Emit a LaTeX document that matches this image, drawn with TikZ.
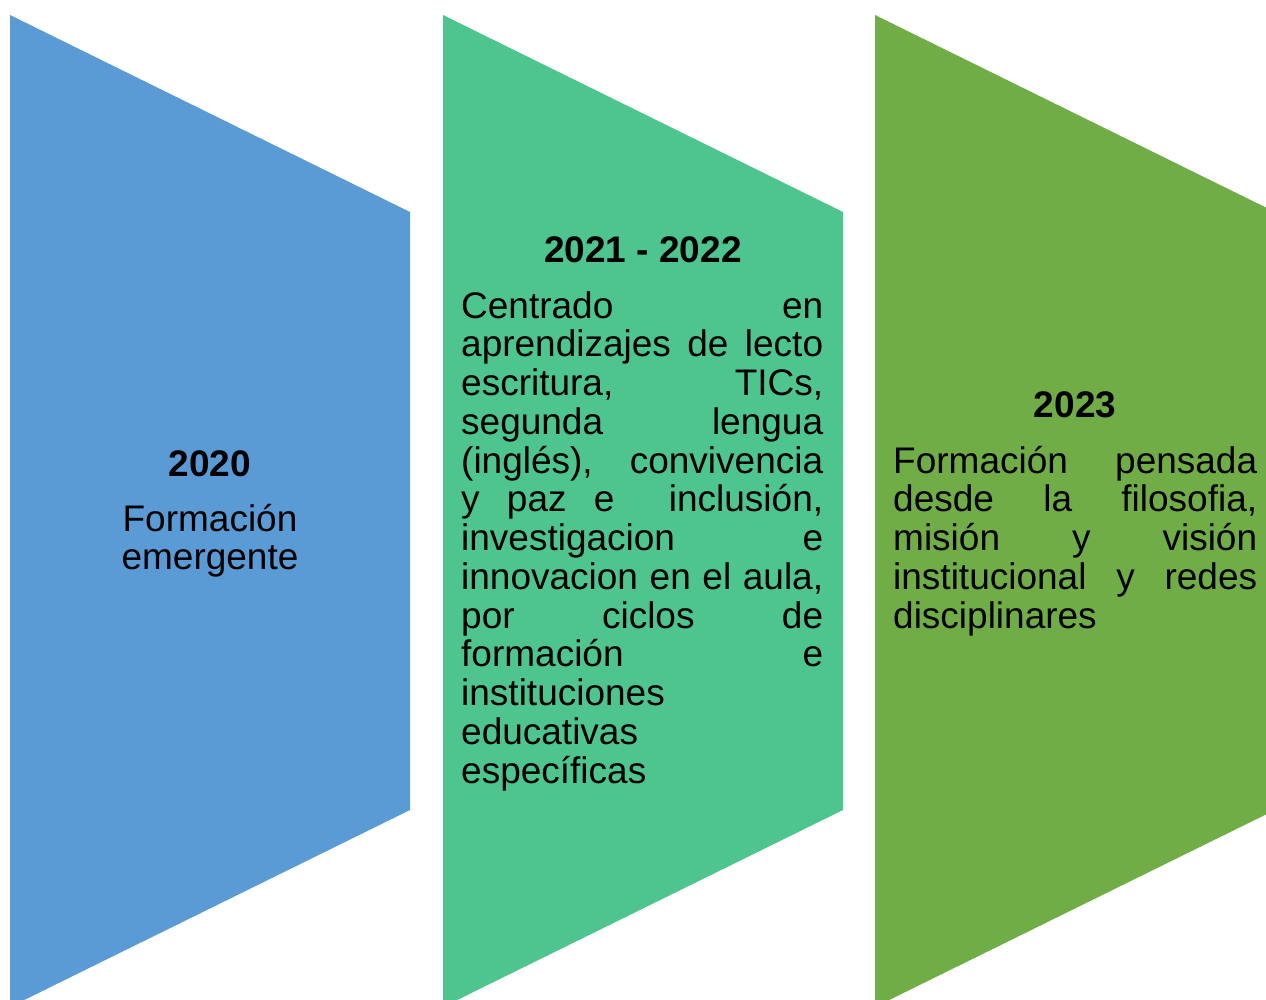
\documentclass[tikz,border=0pt]{standalone}
\usepackage{fontspec}
\setmainfont{Liberation Sans}
\definecolor{cblue}{HTML}{5B9BD5}
\definecolor{cgreen}{HTML}{4EC58E}
\definecolor{colive}{HTML}{70AD47}
\newcommand\myjline[2]{\makebox[#1][s]{#2}}
\newcommand\mylline[2]{\makebox[#1][l]{#2}}
\newcommand\mychev[2]{\fill[#2] (#1,15) -- (#1+400,212) -- (#1+400,810) -- (#1,1007) -- cycle;}
\begin{document}
\begin{tikzpicture}[x=1pt,y=-1pt,
  txt/.style={inner sep=0pt,anchor=base west,font=\fontsize{37}{38.75}\selectfont\frenchspacing},
  head/.style={inner sep=0pt,anchor=base,font=\fontsize{37}{38.75}\selectfont\bfseries},
  ctr/.style={inner sep=0pt,anchor=base,font=\fontsize{37}{38.75}\selectfont}]
\useasboundingbox (0,0) rectangle (1266,1000);
\mychev{10}{cblue}
\mychev{443}{cgreen}
\mychev{875}{colive}
% blue
\node[head] (h1) at (210,476) {2020};
\node[ctr] (b1) at (210,531.5) {Formación};
\node[ctr] (b2) at (210,569) {emergente};
% green
\node[head] (h2) at (643,263) {2021 - 2022};
\foreach \t [count=\i] in {
  {\myjline{362pt}{Centrado en}},
  {\myjline{362pt}{aprendizajes de lecto}},
  {\myjline{362pt}{escritura, TICs,}},
  {\myjline{362pt}{segunda lengua}},
  {\myjline{362pt}{(inglés), convivencia}},
  {\myjline{362pt}{y paz e\ \ inclusión,}},
  {\myjline{362pt}{investigacion e}},
  {\myjline{362pt}{innovacion en el aula,}},
  {\myjline{362pt}{por ciclos de}},
  {\myjline{362pt}{formación e}},
  {\mylline{362pt}{instituciones}},
  {\mylline{362pt}{educativas}},
  {\mylline{362pt}{específicas}}}
  \node[txt] (g\i) at (461,{318+(\i-1)*38.75}) {\t};
% olive
\node[head] (h3) at (1075,417.5) {2023};
\foreach \t [count=\i] in {
  {\myjline{364pt}{Formación pensada}},
  {\myjline{364pt}{desde la filosofia,}},
  {\myjline{364pt}{misión y visión}},
  {\myjline{364pt}{institucional y redes}},
  {\mylline{364pt}{disciplinares}}}
  \node[txt] (o\i) at (893,{473+(\i-1)*38.75}) {\t};
\end{tikzpicture}
\end{document}
